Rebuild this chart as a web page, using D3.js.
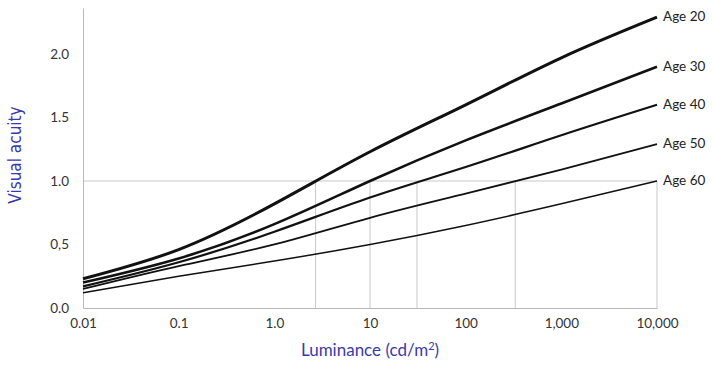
<!DOCTYPE html>
<html>
<head>
<meta charset="utf-8">
<script src="https://cdn.jsdelivr.net/npm/d3@7"></script>
<style>
  body { margin: 0; background: #fff; }
  text { font-family: "Lato", "Open Sans", sans-serif; }
</style>
</head>
<body>
<svg id="acuity" width="712" height="366"></svg>
<script>
// Luminance decades (cd/m2) and visual acuity for each age group
const luminance = [0.01, 0.1, 1, 10, 100, 1000, 10000];
const ages = ["Age 20", "Age 30", "Age 40", "Age 50", "Age 60"];
const age20 = [0.23, 0.46, 0.82, 1.23, 1.60, 1.97, 2.29];
const age30 = [0.20, 0.39, 0.66, 1.00, 1.32, 1.61, 1.90];
const age40 = [0.17, 0.36, 0.60, 0.87, 1.11, 1.36, 1.60];
const age50 = [0.15, 0.33, 0.50, 0.71, 0.90, 1.09, 1.29];
const age60 = [0.12, 0.25, 0.37, 0.50, 0.65, 0.82, 1.00];
// luminance where each curve reaches acuity 1.0
const crossLum = [2.7, 10, 31, 330, 10000];
const xTickLabels = ["0.01", "0.1", "1.0", "10", "100", "1,000", "10,000"];
const yTicks = [0, 0.5, 1, 1.5, 2];
const yTickLabels = ["0.0", "0,5", "1.0", "1.5", "2.0"];

const series = [age20, age30, age40, age50, age60];
const widths = [3, 2.6, 2.2, 1.8, 1.5];

const svg = d3.select("#acuity"),
    margin = { top: 8, right: 55, bottom: 58, left: 83 },
    width = +svg.attr("width") - margin.left - margin.right,
    height = +svg.attr("height") - margin.top - margin.bottom;

const g = svg.append("g")
    .attr("transform", `translate(${margin.left},${margin.top})`);

const x = d3.scaleLog()
    .domain([0.01, 10000])
    .range([0, width]);

const y = d3.scaleLinear()
    .domain([0, 2.362])
    .range([height, 0]);

// reference line at 1.0 and drop lines
g.append("line")
    .attr("x1", 0).attr("x2", width)
    .attr("y1", y(1)).attr("y2", y(1))
    .attr("stroke", "#c8c8c8");

g.selectAll(".drop")
    .data(crossLum)
    .join("line")
    .attr("class", "drop")
    .attr("x1", d => x(d)).attr("x2", d => x(d))
    .attr("y1", y(1)).attr("y2", height)
    .attr("stroke", "#c8c8c8");

// axes
const xAxis = g.append("g")
    .attr("transform", `translate(0,${height})`)
    .call(d3.axisBottom(x).tickValues(luminance)
        .tickFormat((d, i) => xTickLabels[i]).tickSize(0).tickPadding(10));
xAxis.select(".domain").attr("stroke", "#b8b8b8");
xAxis.selectAll("text").style("font-size", "13.5px").attr("fill", "#333");

const yAxis = g.append("g")
    .call(d3.axisLeft(y).tickValues(yTicks)
        .tickFormat((d, i) => yTickLabels[i]).tickSize(0).tickPadding(14));
yAxis.select(".domain").attr("stroke", "#b8b8b8");
yAxis.selectAll("text").style("font-size", "13.5px").attr("fill", "#333");

// curves
const line = d3.line()
    .x((d, i) => x(luminance[i]))
    .y(d => y(d))
    .curve(d3.curveNatural);

g.selectAll(".curve")
    .data(series)
    .join("path")
    .attr("class", "curve")
    .attr("fill", "none")
    .attr("stroke", "#111")
    .attr("stroke-width", (d, i) => widths[i])
    .attr("d", line);

// end labels
g.selectAll(".age")
    .data(series)
    .join("text")
    .attr("class", "age")
    .attr("x", width + 6)
    .attr("y", d => y(d[d.length - 1]) + 4)
    .style("font-size", "13.5px")
    .attr("fill", "#222")
    .text((d, i) => ages[i]);

// axis titles
svg.append("text")
    .attr("x", margin.left + width / 2)
    .attr("y", 356)
    .attr("text-anchor", "middle")
    .style("font-size", "17px")
    .attr("fill", "#3a3aaa")
    .html("Luminance (cd/m<tspan dy='-6' style='font-size:11px'>2</tspan><tspan dy='6'>)</tspan>");

svg.append("text")
    .attr("transform", "translate(21,155) rotate(-90)")
    .attr("text-anchor", "middle")
    .style("font-family", "'Liberation Sans Narrow', 'DejaVu Sans Condensed', sans-serif")
    .style("font-size", "17px")
    .attr("fill", "#3a3aaa")
    .text("Visual acuity");
</script>
</body>
</html>
